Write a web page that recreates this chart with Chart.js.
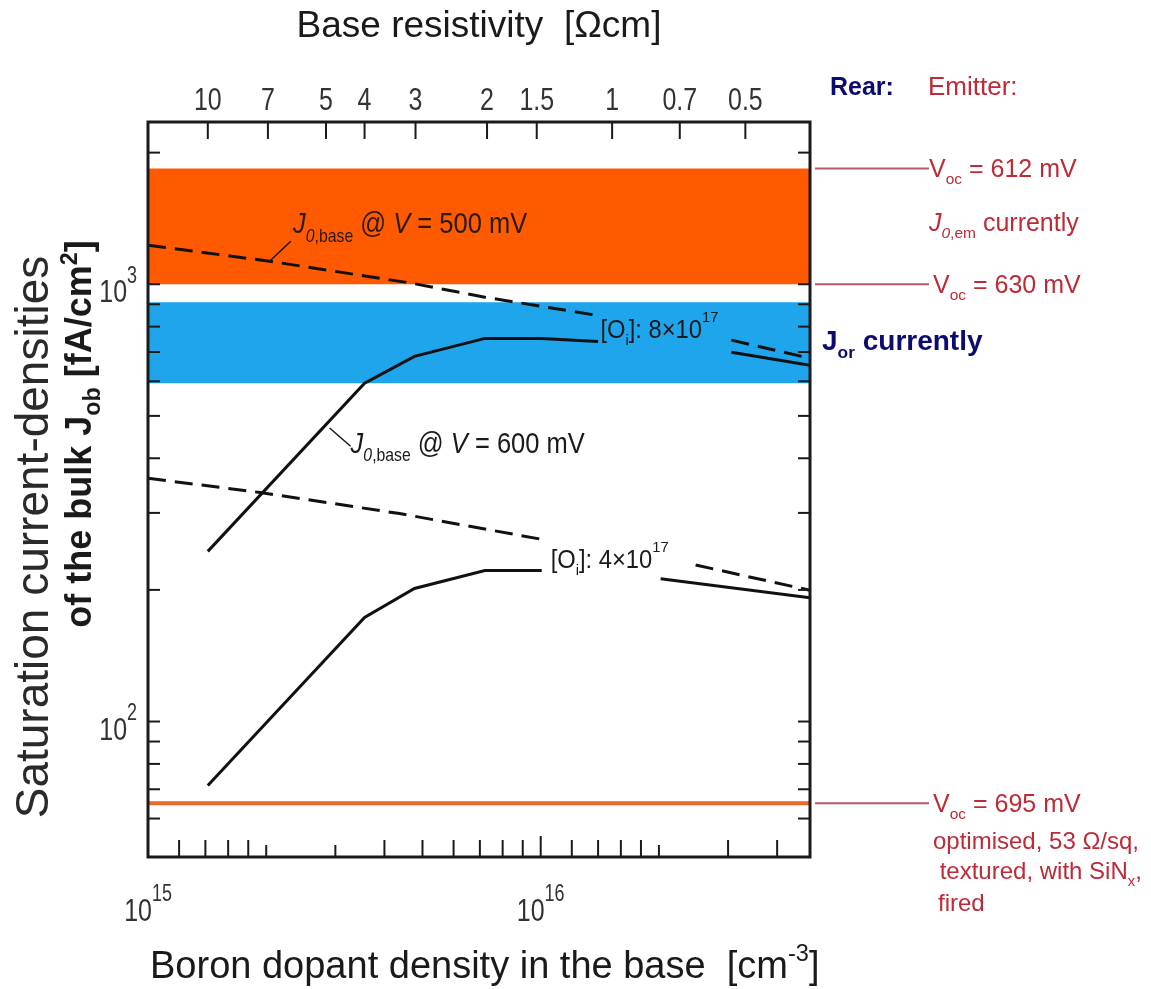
<!DOCTYPE html>
<html><head><meta charset="utf-8">
<script src="https://cdn.jsdelivr.net/npm/chart.js@4.4.1/dist/chart.umd.min.js"></script>
<style>html,body{margin:0;padding:0;background:#fff;}#wrap{width:1151px;height:989px;position:relative;}</style>
</head><body><div id="wrap"><canvas id="c" width="1151" height="989"></canvas></div>
<script>
// ---------------- data ----------------
const xRange = [1.0e15, 4.85e16];           // boron dopant density [cm^-3]
const yRange = [49, 2350];                   // J0b [fA/cm^2]

// J0,base @ 500 mV, [Oi] = 8e17 (dashed)
const oi8_500_x = [1.0e15, 2.04e15, 4.71e15, 7.21e15, 1.39e16, 2.0e16, 3.06e16, 4.85e16];
const oi8_500_y = [1228, 1129, 1005, 934, 849, null, 745, 677];
// J0,base @ 600 mV, [Oi] = 8e17 (solid)
const oi8_600_x = [1.42e15, 3.56e15, 4.77e15, 7.21e15, 1.006e16, 1.40e16, 2.0e16, 3.06e16, 4.85e16];
const oi8_600_y = [245, 594, 684, 752, 752, 740, null, 699, 653];
// J0,base @ 500 mV, [Oi] = 4e17 (dashed)
const oi4_500_x = [1.0e15, 1.93e15, 4.37e15, 1.006e16, 1.6e16, 2.48e16, 4.85e16];
const oi4_500_y = [360, 334, 299, 261, null, 228, 199.6];
// J0,base @ 600 mV, [Oi] = 4e17 (solid)
const oi4_600_x = [1.42e15, 3.56e15, 4.77e15, 7.21e15, 1.006e16, 1.5e16, 2.02e16, 4.85e16];
const oi4_600_y = [71.4, 173, 201.5, 221.6, 221.6, null, 212, 192];

// bands / levels
const emitterBand = [1000, 1840];   // J0,em currently (Voc 630 .. 612 mV)
const rearBand = [594, 910];        // J0r currently
const optimisedLevel = 65;          // Voc = 695 mV
const vocLevels = [1840, 1000, 65];
const vocLabels = ['612', '630', '695'];

// axes ticks
const resistivityLabels = ['10', '7', '5', '4', '3', '2', '1.5', '1', '0.7', '0.5'];
const resistivityDoping = [1.42e15, 2.02e15, 2.84e15, 3.56e15, 4.80e15, 7.3e15, 9.77e15, 1.52e16, 2.26e16, 3.32e16];
const bottomTicks = [1.2e15, 1.4e15, 1.6e15, 1.8e15, 2e15, 3e15, 4e15, 5e15, 6e15, 7e15, 8e15, 9e15, 1e16, 1.2e16, 1.4e16, 1.6e16, 1.8e16, 2e16, 3e16, 4e16];
const bottomShortTicks = [2e15, 3e15, 2e16];
const bottomLabelValues = [1e15, 1e16];
const bottomLabelExp = ['15', '16'];
const yTicks = [60, 70, 80, 90, 100, 200, 300, 400, 500, 600, 700, 800, 900, 1000, 2000];
const yLabelValues = [1000, 100];
const yLabelExp = ['3', '2'];

// ---------------- helpers ----------------
const FAM = '"Liberation Sans", Arial, Helvetica, sans-serif';
function drawRich(ctx, segs, x, y, o) {
  const size = o.size, hs = o.hScale || 1, ss = o.scriptScale || 0.62;
  const pieces = segs.map(s => {
    const sz = (s.sub || s.sup) ? size * ss : size;
    const font = (s.italic ? 'italic ' : '') + ((s.bold || o.bold) ? 'bold ' : '') + sz + 'px ' + FAM;
    ctx.font = font;
    const w = ctx.measureText(s.t).width * hs;
    const dy = s.sub ? size * (o.subShift || 0.28) : s.sup ? -size * (o.supShift || 0.42) : 0;
    return { t: s.t, font, w, dy };
  });
  const total = pieces.reduce((a, p) => a + p.w, 0);
  let cx = o.align === 'center' ? x - total / 2 : o.align === 'right' ? x - total : x;
  if (o.bg) { ctx.fillStyle = o.bg; ctx.fillRect(cx - 4, y - size * 0.9, total + 8, size * 1.3); }
  ctx.fillStyle = o.color || '#000'; ctx.textBaseline = 'alphabetic'; ctx.textAlign = 'left';
  for (const p of pieces) {
    ctx.save(); ctx.translate(cx, y + p.dy); ctx.scale(hs, 1); ctx.font = p.font; ctx.fillText(p.t, 0, 0); ctx.restore();
    cx += p.w;
  }
  return total;
}
const pts = (xs, ys) => xs.map((x, i) => ({ x, y: ys[i] }));
const flat = v => pts(xRange, [v, v]);

const RED = '#BE2A36', NAVY = '#0C0C6E', LEADER = '#B85A66';

const deco = {
  id: 'deco',
  afterDatasetsDraw(chart) {
    const { ctx, chartArea: a, scales: { x, y } } = chart;
    ctx.save();
    ctx.strokeStyle = '#1a1a1a'; ctx.lineWidth = 2;
    resistivityDoping.forEach(v => { const px = x.getPixelForValue(v); ctx.beginPath(); ctx.moveTo(px, a.top); ctx.lineTo(px, a.top + 17); ctx.stroke(); });
    bottomTicks.forEach(v => {
      const px = x.getPixelForValue(v);
      const len = v === 1e16 ? 21 : (bottomShortTicks.includes(v) ? 12 : 17);
      ctx.beginPath(); ctx.moveTo(px, a.bottom); ctx.lineTo(px, a.bottom - len); ctx.stroke();
    });
    yTicks.forEach(v => {
      const py = y.getPixelForValue(v);
      ctx.beginPath(); ctx.moveTo(a.left, py); ctx.lineTo(a.left + 12, py); ctx.stroke();
      ctx.beginPath(); ctx.moveTo(a.right, py); ctx.lineTo(a.right - 12, py); ctx.stroke();
    });
    ctx.lineWidth = 3; ctx.strokeStyle = '#1a1a1a';
    ctx.strokeRect(a.left, a.top, a.right - a.left, a.bottom - a.top);
    ctx.restore();
  },
  afterDraw(chart) {
    const { ctx, chartArea: a, scales: { x, y } } = chart;
    ctx.save();
    const tickCol = '#333333';
    resistivityDoping.forEach((v, i) => drawRich(ctx, [{ t: resistivityLabels[i] }], x.getPixelForValue(v), 110, { size: 32, hScale: 0.78, align: 'center', color: tickCol }));
    bottomLabelValues.forEach((v, i) => drawRich(ctx, [{ t: '10' }, { t: bottomLabelExp[i], sup: true }], x.getPixelForValue(v), 921, { size: 32, hScale: 0.78, align: 'center', color: tickCol, scriptScale: 0.72, supShift: 0.62 }));
    yLabelValues.forEach((v, i) => drawRich(ctx, [{ t: '10' }, { t: yLabelExp[i], sup: true }], 137, y.getPixelForValue(v) + 18, { size: 32, hScale: 0.78, align: 'right', color: tickCol, scriptScale: 0.72, supShift: 0.6 }));
    drawRich(ctx, [{ t: 'Base resistivity  [Ωcm]' }], 479, 37, { size: 37, align: 'center', color: '#1a1a1a' });
    drawRich(ctx, [{ t: 'Boron dopant density in the base  [cm' }, { t: '-3', sup: true }, { t: ']' }], 150, 978, { size: 38, align: 'left', color: '#1a1a1a', scriptScale: 0.62, supShift: 0.45 });
    ctx.save(); ctx.translate(48, 537); ctx.rotate(-Math.PI / 2);
    drawRich(ctx, [{ t: 'Saturation current-densities' }], 0, 0, { size: 46, align: 'center', color: '#2a2a2a' });
    ctx.restore();
    ctx.save(); ctx.translate(91, 434); ctx.rotate(-Math.PI / 2);
    drawRich(ctx, [{ t: 'of the bulk ' }, { t: 'J' }, { t: 'ob', sub: true }, { t: ' [fA/cm' }, { t: '2', sup: true }, { t: ']' }], 0, 0, { size: 36, bold: true, align: 'center', color: '#1a1a1a', scriptScale: 0.65, subShift: 0.25, supShift: 0.4 });
    ctx.restore();

    ctx.strokeStyle = '#1a1a1a'; ctx.lineWidth = 1.5;
    const L = (x1, y1, x2, y2) => { ctx.beginPath(); ctx.moveTo(x.getPixelForValue(x1), y.getPixelForValue(y1)); ctx.lineTo(x.getPixelForValue(x2), y.getPixelForValue(y2)); ctx.stroke(); };
    L(2.04e15, 1129, 2.31e15, 1254);
    L(2.90e15, 469, 3.28e15, 426);
    const jlab = mv => [{ t: 'J', italic: true }, { t: '0', sub: true, italic: true }, { t: ',base', sub: true }, { t: ' @ ' }, { t: 'V', italic: true }, { t: ' = ' + mv + ' mV' }];
    drawRich(ctx, jlab('500'), x.getPixelForValue(2.34e15), y.getPixelForValue(1308), { size: 30, hScale: 0.85, color: '#2a1a10' });
    drawRich(ctx, jlab('600'), x.getPixelForValue(3.28e15), y.getPixelForValue(412), { size: 30, hScale: 0.85, color: '#1a1a1a' });
    const oilab = n => [{ t: '[O' }, { t: 'i', sub: true }, { t: ']: ' + n + '×10' }, { t: '17', sup: true }];
    drawRich(ctx, oilab('8'), x.getPixelForValue(1.419e16), y.getPixelForValue(752), { size: 25, hScale: 0.95, color: '#1a1a1a', supShift: 0.64 });
    drawRich(ctx, oilab('4'), x.getPixelForValue(1.06e16), y.getPixelForValue(224), { size: 25, hScale: 0.95, color: '#1a1a1a', supShift: 0.64 });

    ctx.strokeStyle = LEADER; ctx.lineWidth = 2;
    vocLevels.forEach(v => { const py = y.getPixelForValue(v); ctx.beginPath(); ctx.moveTo(a.right + 5, py); ctx.lineTo(929, py); ctx.stroke(); });
    drawRich(ctx, [{ t: 'Rear:' }], 830, 95, { size: 25, bold: true, color: NAVY });
    drawRich(ctx, [{ t: 'Emitter:' }], 928, 95, { size: 26, color: RED });
    const voc = n => [{ t: 'V' }, { t: 'oc', sub: true }, { t: ' = ' + n + ' mV' }];
    drawRich(ctx, voc(vocLabels[0]), 929, y.getPixelForValue(vocLevels[0]) + 9, { size: 25, color: RED });
    drawRich(ctx, [{ t: 'J', italic: true }, { t: '0', sub: true, italic: true }, { t: ',em', sub: true }, { t: ' currently' }], 929, 231, { size: 25, color: RED });
    drawRich(ctx, voc(vocLabels[1]), 933, y.getPixelForValue(vocLevels[1]) + 9, { size: 25, color: RED });
    drawRich(ctx, voc(vocLabels[2]), 933, y.getPixelForValue(vocLevels[2]) + 9, { size: 25, color: RED });
    drawRich(ctx, [{ t: 'optimised, 53 Ω/sq,' }], 933, 849, { size: 24, color: RED });
    drawRich(ctx, [{ t: ' textured, with SiN' }, { t: 'x', sub: true }, { t: ',' }], 933, 879, { size: 24, color: RED });
    drawRich(ctx, [{ t: 'fired' }], 938, 911, { size: 24, color: RED });
    drawRich(ctx, [{ t: 'J', bold: true }, { t: 'or', sub: true }, { t: ' currently' }], 822, 350, { size: 28, bold: true, color: NAVY, bg: '#ffffff' });
    ctx.restore();
  }
};

const ctx = document.getElementById('c').getContext('2d');
new Chart(ctx, {
  type: 'line',
  data: {
    datasets: [
      { data: flat(emitterBand[1]), borderWidth: 0, pointRadius: 0, fill: false, order: 10 },
      { data: flat(emitterBand[0]), borderWidth: 0, pointRadius: 0, fill: '-1', backgroundColor: '#FF5A00', order: 10 },
      { data: flat(rearBand[1]), borderWidth: 0, pointRadius: 0, fill: false, order: 10 },
      { data: flat(rearBand[0]), borderWidth: 0, pointRadius: 0, fill: '-1', backgroundColor: '#1EA5EB', order: 10 },
      { data: flat(optimisedLevel), borderWidth: 4, borderColor: '#E8692A', pointRadius: 0, fill: false, order: 9 },
      { data: pts(oi8_500_x, oi8_500_y), borderColor: '#111', borderWidth: 3, borderDash: [18, 9], pointRadius: 0, fill: false, tension: 0, order: 1 },
      { data: pts(oi8_600_x, oi8_600_y), borderColor: '#111', borderWidth: 3, pointRadius: 0, fill: false, tension: 0, order: 1 },
      { data: pts(oi4_500_x, oi4_500_y), borderColor: '#111', borderWidth: 3, borderDash: [18, 9], pointRadius: 0, fill: false, tension: 0, order: 1 },
      { data: pts(oi4_600_x, oi4_600_y), borderColor: '#111', borderWidth: 3, pointRadius: 0, fill: false, tension: 0, order: 1 }
    ]
  },
  options: {
    responsive: false, animation: false, spanGaps: false,
    layout: { padding: { left: 148, top: 122, right: 341, bottom: 132 } },
    plugins: { legend: { display: false }, tooltip: { enabled: false } },
    scales: {
      x: { type: 'logarithmic', min: xRange[0], max: xRange[1], display: false },
      y: { type: 'logarithmic', min: yRange[0], max: yRange[1], display: false }
    }
  },
  plugins: [deco]
});
</script></body></html>
